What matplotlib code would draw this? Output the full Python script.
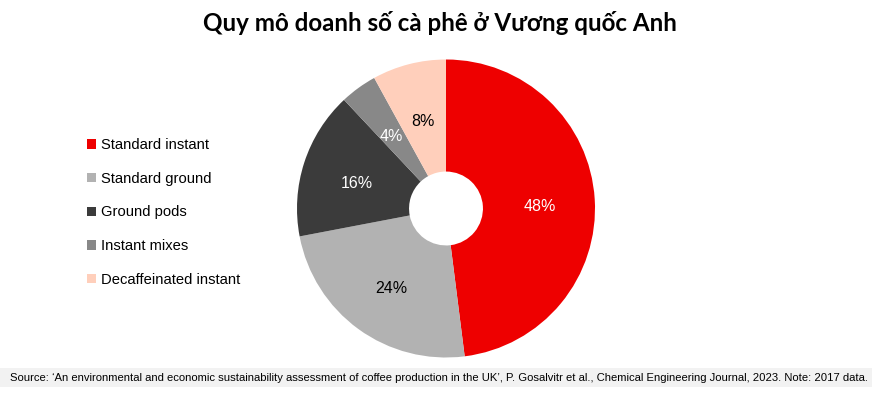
import matplotlib
matplotlib.use("Agg")
import matplotlib.pyplot as plt
from matplotlib.patches import Rectangle, Patch

title = "Quy mô doanh số cà phê ở Vương quốc Anh"
categories = ["Standard instant", "Standard ground", "Ground pods", "Instant mixes", "Decaffeinated instant"]
values = [48, 24, 16, 4, 8]
colors = ["#EE0000", "#B2B2B2", "#3B3B3B", "#888888", "#FFCFBB"]
label_colors = ["white", "black", "white", "white", "black"]
source = ("Source: \u2018An environmental and economic sustainability assessment of coffee production in the UK\u2019, "
          "P. Gosalvitr et al., Chemical Engineering Journal, 2023. Note: 2017 data.")

W, H = 885, 399
fig = plt.figure(figsize=(W / 100, H / 100), dpi=100)
fig.patch.set_facecolor("white")

sans = ["Liberation Sans", "DejaVu Sans"]

# pie
cx, cy, r = 446, 208.5, 149
ax = fig.add_axes([(cx - r) / W, (H - cy - r) / H, 2 * r / W, 2 * r / H])
wedges, texts, autotexts = ax.pie(
    values, colors=colors, startangle=90, counterclock=False,
    radius=1.0, autopct=lambda p: f"{p:.0f}%", pctdistance=0.63,
    wedgeprops=dict(width=0.752, linewidth=0),
    textprops=dict(fontsize=11.5, family=sans))
for t, c in zip(autotexts, label_colors):
    t.set_color(c)
    x, y = t.get_position()
    t.set_position((x, y - 0.024))
ax.set_xlim(-1, 1)
ax.set_ylim(-1, 1)
ax.set_aspect("equal")
ax.axis("off")

# title
fig.text(440 / W, 1 - 23 / H, title, ha="center", va="center",
         fontsize=17.4, fontweight="bold", family=["Lato", "DejaVu Sans"])

# legend
handles = [Patch(facecolor=c, edgecolor="none") for c in colors]
leg = fig.legend(handles, categories, loc="upper left",
                 bbox_to_anchor=(87 / W, 1 - 138 / H), frameon=False,
                 prop=dict(family=sans, size=10.6), handlelength=0.62,
                 handleheight=0.62, handletextpad=0.3, labelspacing=1.34,
                 borderpad=0, borderaxespad=0)

# source band
fig.patches.append(Rectangle((0, 1 - 387 / H), 872 / W, 19 / H,
                             transform=fig.transFigure, facecolor="#F2F2F2",
                             edgecolor="none", zorder=0))
fig.text(10 / W, 1 - 378 / H, source, ha="left", va="center",
         fontsize=8.1, family=sans, color="black")

fig.savefig("out.png", dpi=100)
